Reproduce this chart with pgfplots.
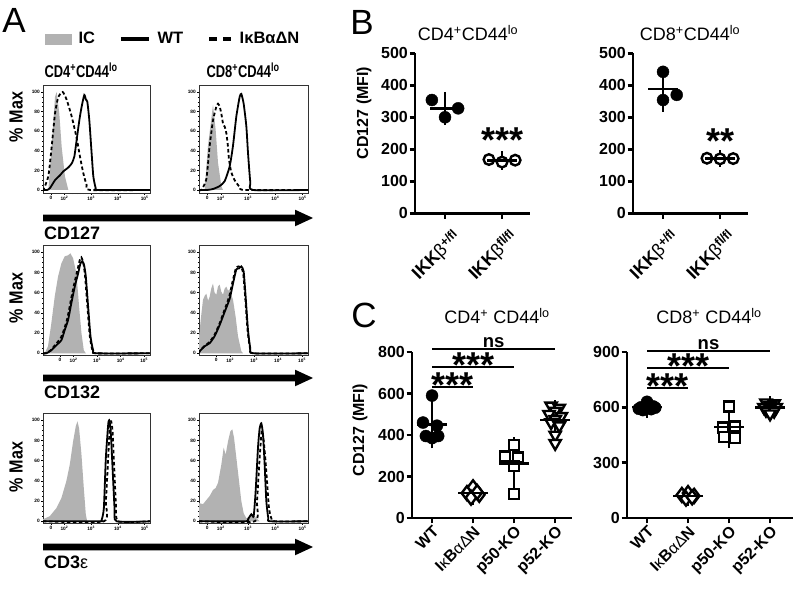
\documentclass[border=0pt]{standalone}
\usepackage{fontspec}
\setmainfont{Liberation Sans}
\usepackage{pgfplots}
\pgfplotsset{compat=1.18}

\definecolor{icgray}{RGB}{178,178,178}
\newcommand{\fs}[1]{\fontsize{#1bp}{#1bp}\selectfont}
\newcommand{\rsup}[1]{\raisebox{5bp}{\fs{12.5}#1}}

\pgfplotsset{
  histo/.style={
    scale only axis, clip=true,
    axis line style={line width=0.6bp, black!80},
    tick align=outside,
    xtick pos=bottom, ytick pos=left,
    ytick={0,20,40,60,80,100},
    minor y tick num=3,
    major tick length=2bp, minor tick length=1.2bp,
    tick style={line width=0.4bp, black},
    tick label style={font=\bfseries\fs{4.8}, inner sep=1bp},
    /pgf/number format/assume math mode=true,
    xticklabels={0,10\textsuperscript{2},10\textsuperscript{3},10\textsuperscript{4},10\textsuperscript{5}},
    minor xtick={2.301,2.477,2.602,2.699,2.778,2.845,2.903,2.954,3.301,3.477,3.602,3.699,3.778,3.845,3.903,3.954,4.301,4.477,4.602,4.699,4.778,4.845,4.903,4.954},
  },
  rowA/.style={xmin=1.2, xmax=5.2, xtick={1.5,2,3,4,5}},
  rowB/.style={xmin=0.7, xmax=5.25, xtick={1.42,2,3,4,5}},
  icfill/.style={fill=icgray, draw=none},
  wt/.style={black, line width=1.8bp, smooth, tension=0.35},
  mut/.style={black, line width=1.8bp, dash pattern=on 3.5bp off 2.5bp, smooth, tension=0.35},
  gp/.style={
    scale only axis, clip=false,
    axis lines=left,
    axis line style={line width=2.6bp, -},
    tick style={line width=2.6bp, black},
    major tick length=5.5bp,
    tick align=outside,
    tick label style={font=\bfseries\fs{16}},
    /pgf/number format/assume math mode=true,
    xticklabel style={rotate=45, anchor=north east, inner sep=1bp},
    yticklabel style={inner sep=1.5bp},
    ymin=0,
  },
  fc/.style={only marks, mark=*, mark size=6bp, black},
  oc/.style={only marks, mark=*, mark size=5.3bp, mark options={fill=white, draw=black, line width=2.4bp}},
  sq/.style={only marks, mark=square*, mark size=5bp, mark options={fill=white, draw=black, line width=2.4bp}},
  dm/.style={only marks, mark=diamond*, mark size=7bp, mark options={fill=white, draw=black, line width=2.4bp}},
  tr/.style={only marks, mark=triangle*, mark size=6.5bp, mark options={fill=white, draw=black, line width=2.4bp, rotate=180}},
  msd/.style={only marks, black, mark=-, mark size=15bp, mark options={line width=2.6bp},
    error bars/.cd, y dir=both, y explicit, error bar style={line width=2.6bp},
    error mark options={line width=2.6bp, mark size=8bp}},
}

\begin{document}
\begin{tikzpicture}[x=1bp, y=1bp]
\useasboundingbox (0,0) rectangle (796,591);

% ================= Panel A =================
\node[font=\fs{35}] at (14,571) {A};
\node[font=\bfseries\fs{17}] at (81,521) {\scalebox{0.76}[1]{CD4\textsuperscript{+}CD44\textsuperscript{lo}}};
\node[font=\bfseries\fs{17}] at (243,521) {\scalebox{0.76}[1]{CD8\textsuperscript{+}CD44\textsuperscript{lo}}};
\node[font=\bfseries\fs{19}, rotate=90] at (16,474) {\scalebox{0.85}[1]{\% Max}};
\node[font=\bfseries\fs{19}, rotate=90] at (16,293) {\scalebox{0.85}[1]{\% Max}};
\node[font=\bfseries\fs{19}, rotate=90] at (16,124) {\scalebox{0.85}[1]{\% Max}};

% Row 1 left
\begin{axis}[histo, rowA, at={(43bp,398bp)}, anchor=south west, width=107bp, height=108bp,
  ymin=-3.06, ymax=107.1,
  legend columns=3,
  legend style={at={(axis description cs:0.019,1.426)}, anchor=west, draw=none, fill=none,
    inner sep=0pt, font=\bfseries\fs{16.5},
    /tikz/every odd column/.append style={column sep=5bp},
    /tikz/every even column/.append style={column sep=22bp}},
  legend cell align=left]
\addlegendimage{legend image code/.code={\fill[icgray] (0bp,-5bp) rectangle (26bp,5bp);}}
\addlegendentry{IC}
\addlegendimage{legend image code/.code={\draw[line width=3.5bp] (0bp,0bp) -- (28bp,0bp);}}
\addlegendentry{WT}
\addlegendimage{legend image code/.code={\draw[line width=3.5bp, dash pattern=on 8bp off 6bp] (0bp,0bp) -- (22bp,0bp);}}
\addlegendentry{IκBαΔN}
\addplot[icfill] coordinates {(1.2,0) (1.4,0) (1.524,44) (1.649,95) (1.71,100) (1.81,78) (1.898,44) (2.02,14) (2.147,0)} \closedcycle;
\addplot[mut] coordinates {(1.2,0) (1.212,0) (1.4,14) (1.524,44) (1.649,78) (1.773,95) (1.935,100) (2.085,92) (2.272,75) (2.458,53) (2.583,34) (2.708,17) (2.832,5) (2.957,0) (5.2,0)};
\addplot[wt] coordinates {(1.2,0) (1.35,0) (1.462,2) (1.649,10) (1.835,15) (1.96,19) (2.147,23) (2.272,27) (2.371,34) (2.458,51) (2.558,71) (2.645,85) (2.745,97) (2.807,92) (2.857,90) (2.932,71) (3.019,37) (3.081,14) (3.169,2) (3.268,0) (5.2,0)};
\end{axis}

% Row 1 right
\begin{axis}[histo, rowA, at={(199bp,398bp)}, anchor=south west, width=109bp, height=108bp,
  ymin=-3.06, ymax=107.1]
\addplot[icfill] coordinates {(1.2,0) (1.408,0) (1.53,45) (1.714,87) (1.812,61) (1.897,28) (2.019,4) (2.08,0)} \closedcycle;
\addplot[mut] coordinates {(1.2,0) (1.286,0) (1.469,11) (1.591,45) (1.714,71) (1.836,85) (1.897,88) (1.96,85) (2.019,78) (2.08,68) (2.15,64) (2.203,58) (2.26,45) (2.301,31) (2.386,18) (2.509,10) (2.692,3) (2.876,0) (5.2,0)};
\addplot[wt] coordinates {(1.2,0) (1.5,0) (1.714,1) (1.958,4) (2.142,9) (2.325,24) (2.447,45) (2.57,75) (2.692,95) (2.753,98) (2.839,88) (2.937,65) (2.998,38) (3.083,8) (3.181,0) (5.2,0)};
\end{axis}

% Row 2 left
\begin{axis}[histo, rowB, at={(43bp,236bp)}, anchor=south west, width=107bp, height=110bp,
  ymin=-1.68, ymax=107.2]
\addplot[icfill] coordinates {(0.7,0) (0.771,0) (0.913,7) (1.056,30) (1.198,56) (1.34,76) (1.482,89) (1.624,96) (1.767,97) (1.866,99) (1.98,94) (2.122,79) (2.236,46) (2.335,20) (2.435,3) (2.52,0)} \closedcycle;
\addplot[mut] coordinates {(0.7,0) (0.82,0) (1.03,3) (1.24,9) (1.45,15) (1.6,24) (1.74,35) (1.88,52) (2.02,68) (2.16,82) (2.26,92) (2.33,95) (2.42,89) (2.49,76) (2.59,46) (2.69,17) (2.8,3) (2.95,0) (5.25,0)};
\addplot[wt] coordinates {(0.7,0) (0.842,0) (1.056,3) (1.269,8) (1.482,13) (1.624,23) (1.767,33) (1.909,50) (2.051,66) (2.193,79) (2.293,89) (2.378,91) (2.449,87) (2.52,76) (2.62,46) (2.719,17) (2.833,3) (2.975,0) (5.25,0)};
\end{axis}

% Row 2 right
\begin{axis}[histo, rowB, at={(199bp,236bp)}, anchor=south west, width=109bp, height=110bp,
  ymin=-1.68, ymax=107.2]
\addplot[icfill] coordinates {(0.7,0) (0.7,16) (0.78,35) (0.867,53) (0.94,57) (1.006,59) (1.08,52) (1.145,56) (1.21,64) (1.284,69) (1.35,60) (1.423,58) (1.49,66) (1.562,68) (1.63,61) (1.702,58) (1.77,64) (1.841,66) (1.91,62) (1.98,63) (2.119,53) (2.23,36) (2.327,17) (2.467,2) (2.536,0)} \closedcycle;
\addplot[mut] coordinates {(0.7,0) (0.72,2) (0.92,7) (1.13,11) (1.34,18) (1.55,29) (1.75,42) (1.96,56) (2.10,71) (2.24,84) (2.35,86) (2.45,85) (2.54,80) (2.63,55) (2.73,22) (2.83,5) (2.96,0) (5.25,0)};
\addplot[wt] coordinates {(0.7,0) (0.728,2) (0.936,7) (1.145,10) (1.354,17) (1.562,28) (1.771,41) (1.98,54) (2.119,69) (2.258,83) (2.369,84) (2.467,86) (2.564,81) (2.647,56) (2.745,23) (2.842,5) (2.981,0) (5.25,0)};
\end{axis}

% Row 3 left
\begin{axis}[histo, rowA, at={(43bp,68bp)}, anchor=south west, width=107bp, height=110bp,
  ymin=-1.68, ymax=107.2]
\addplot[icfill] coordinates {(1.2,0) (1.2,2) (1.45,5) (1.7,13) (1.888,23) (2.075,40) (2.2,56) (2.325,79) (2.425,94) (2.488,99) (2.55,92) (2.638,66) (2.725,33) (2.8,7) (2.85,0)} \closedcycle;
\addplot[mut] coordinates {(1.2,0) (3.475,0) (3.55,20) (3.638,63) (3.7,96) (3.75,99) (3.8,89) (3.863,53) (3.925,17) (4.013,0) (5.2,0)};
\addplot[wt] coordinates {(1.2,0) (3.3,0) (3.388,1) (3.475,13) (3.55,63) (3.638,96) (3.675,100) (3.725,92) (3.8,53) (3.875,13) (3.95,0) (5.2,0)};
\end{axis}

% Row 3 right
\begin{axis}[histo, rowA, at={(199bp,68bp)}, anchor=south west, width=109bp, height=110bp,
  ymin=-1.68, ymax=107.2]
\addplot[icfill] coordinates {(1.2,0) (1.2,18) (1.347,17) (1.469,21) (1.591,25) (1.714,31) (1.812,33) (1.897,38) (2.019,56) (2.105,73) (2.178,66) (2.264,79) (2.35,89) (2.423,91) (2.484,83) (2.57,63) (2.668,40) (2.753,20) (2.839,8) (2.937,3) (3.059,5) (3.181,7) (3.304,3) (3.426,0)} \closedcycle;
\addplot[mut] coordinates {(1.2,0) (3.242,0) (3.328,20) (3.426,63) (3.499,89) (3.548,86) (3.622,66) (3.695,40) (3.768,13) (3.854,3) (3.976,0) (5.2,0)};
\addplot[wt] coordinates {(1.2,0) (2.9,0) (2.998,2) (3.12,7) (3.206,5) (3.279,30) (3.365,73) (3.426,92) (3.487,97) (3.548,86) (3.609,56) (3.671,20) (3.744,3) (3.817,0) (5.2,0)};
\end{axis}

% Axis arrows and marker labels
\foreach \Y in {373,213,44}{
  \fill[black] (43,\Y+3.3) -- (295,\Y+3.3) -- (295,\Y+8.3) -- (313,\Y) -- (295,\Y-8.3) -- (295,\Y-3.3) -- (43,\Y-3.3) -- cycle;
}
\node[font=\bfseries\fs{18}, anchor=west, inner sep=0pt] at (44,358) {CD127};
\node[font=\bfseries\fs{18}, anchor=west, inner sep=0pt] at (44,199) {CD132};
\node[font=\bfseries\fs{18}, anchor=west, inner sep=0pt] at (44,29) {CD3{\mdseries ε}};

% ================= Panel B =================
\node[font=\fs{35}] at (362,569) {B};
\node[font=\fs{18}] at (468,558) {CD4\textsuperscript{+}CD44\textsuperscript{lo}};
\node[font=\fs{18}] at (690,558) {CD8\textsuperscript{+}CD44\textsuperscript{lo}};
\node[font=\bfseries\fs{16}, rotate=90] at (364,478) {CD127 (MFI)};

\begin{axis}[gp, at={(415bp,377.7bp)}, anchor=south west, width=115bp, height=160bp,
  xmin=0.474, xmax=2.49, ymax=500, ytick={0,100,200,300,400,500},
  xtick={1,2}, xticklabels={IKK{\mdseries β}\rsup{+/fl}, IKK{\mdseries β}\rsup{fl/fl}},
  xticklabel style={font=\bfseries\fs{18}, xshift=-1bp, yshift=-10bp}]
\addplot[fc] coordinates {(0.77,354) (1.0,300) (1.23,328)};
\addplot[oc] coordinates {(1.77,168) (2.0,160) (2.23,166)};
\addplot[msd] coordinates {(1,327.3) +- (0,27.0) (2,164.7) +- (0,4.2)};
\node[font=\bfseries\fs{36}, anchor=base] at (axis cs:2,190) {***};
\end{axis}

\begin{axis}[gp, at={(633bp,377.7bp)}, anchor=south west, width=115bp, height=160bp,
  xmin=0.474, xmax=2.49, ymax=500, ytick={0,100,200,300,400,500},
  xtick={1,2}, xticklabels={IKK{\mdseries β}\rsup{+/fl}, IKK{\mdseries β}\rsup{fl/fl}},
  xticklabel style={font=\bfseries\fs{18}, xshift=-1bp, yshift=-10bp}]
\addplot[fc] coordinates {(1.0,442) (1.0,354) (1.24,370)};
\addplot[oc] coordinates {(1.77,172) (2.0,170) (2.23,171)};
\addplot[msd] coordinates {(1,388.7) +- (0,46.8) (2,171) +- (0,1)};
\node[font=\bfseries\fs{36}, anchor=base] at (axis cs:2,187) {**};
\end{axis}

% ================= Panel C =================
\node[font=\fs{35}] at (364,276) {C};
\node[font=\fs{18}] at (497,275) {CD4\textsuperscript{+} CD44\textsuperscript{lo}};
\node[font=\fs{18}] at (709,275) {CD8\textsuperscript{+} CD44\textsuperscript{lo}};
\node[font=\bfseries\fs{16}, rotate=90] at (360,161) {CD127 (MFI)};

\begin{axis}[gp, at={(412bp,73bp)}, anchor=south west, width=160bp, height=166bp,
  xmin=0.512, xmax=4.41, ymax=800, ytick={0,200,400,600,800},
  xtick={1,2,3,4}, xticklabels={WT, I{\mdseries κ}B{\mdseries αΔ}N, p50-KO, p52-KO}]
\addplot[fc] coordinates {(1.0,590) (0.78,460) (1.12,445) (0.85,395) (1.0,385) (1.15,395)};
\addplot[dm] coordinates {(1.85,120) (2.0,148) (2.15,112) (1.95,98) (2.1,125)};
\addplot[sq] coordinates {(3.0,352) (2.78,296) (3.1,292) (3.0,250) (3.0,116)};
\addplot[tr] coordinates {(3.9,540) (4.1,530) (4.0,515) (3.85,500) (4.15,490) (4.0,475) (3.9,460) (4.1,445) (4.0,400) (4.0,360)};
\addplot[msd] coordinates {(1,451.7) +- (0,77.6) (2,120.6) +- (0,18.5) (3,261.2) +- (0,88.9) (4,471.5) +- (0,57.3)};
\draw[line width=2.6bp] (axis cs:1,814) -- (axis cs:4,814);
\draw[line width=2.6bp] (axis cs:1,728) -- (axis cs:3,728);
\draw[line width=2.6bp] (axis cs:1,631) -- (axis cs:2,631);
\node[font=\bfseries\fs{18.5}, anchor=base, yshift=1.5bp] at (axis cs:2.5,814) {ns};
\node[font=\bfseries\fs{36}, anchor=base, yshift=-10.5bp] at (axis cs:2,728) {***};
\node[font=\bfseries\fs{36}, anchor=base, yshift=-10.5bp] at (axis cs:1.5,631) {***};
\end{axis}

\begin{axis}[gp, at={(627bp,73bp)}, anchor=south west, width=166bp, height=166bp,
  xmin=0.512, xmax=4.56, ymax=900, ytick={0,300,600,900},
  xtick={1,2,3,4}, xticklabels={WT, I{\mdseries κ}B{\mdseries αΔ}N, p50-KO, p52-KO}]
\addplot[fc] coordinates {(0.85,600) (1.0,630) (1.15,605) (0.9,585) (1.1,590) (1.0,610) (0.8,592) (1.2,598)};
\addplot[dm] coordinates {(1.85,125) (2.0,135) (2.15,120) (1.95,105) (2.1,112)};
\addplot[sq] coordinates {(3.0,605) (3.15,495) (2.85,490) (2.88,440) (3.15,435)};
\addplot[tr] coordinates {(3.9,625) (4.1,620) (4.0,610) (3.85,600) (4.15,600) (4.0,595) (3.9,585) (4.1,580) (4.0,565)};
\addplot[msd] coordinates {(1,601.3) +- (0,14) (2,119.4) +- (0,11.7) (3,493) +- (0,68) (4,597.8) +- (0,18)};
\draw[line width=2.6bp] (axis cs:1,905) -- (axis cs:4,905);
\draw[line width=2.6bp] (axis cs:1,813) -- (axis cs:3,813);
\draw[line width=2.6bp] (axis cs:1,705) -- (axis cs:2,705);
\node[font=\bfseries\fs{18.5}, anchor=base, yshift=1.5bp] at (axis cs:2.5,905) {ns};
\node[font=\bfseries\fs{36}, anchor=base, yshift=-10.5bp] at (axis cs:2,813) {***};
\node[font=\bfseries\fs{36}, anchor=base, yshift=-10.5bp] at (axis cs:1.5,705) {***};
\end{axis}

\end{tikzpicture}
\end{document}
